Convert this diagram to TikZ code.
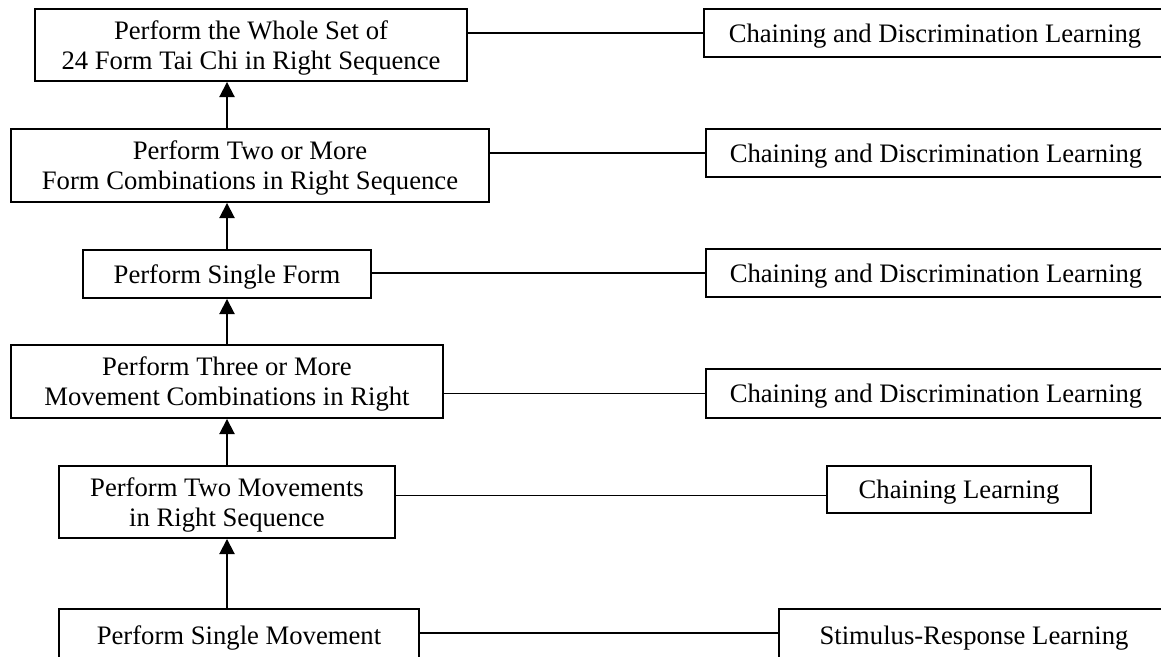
\documentclass[tikz,border=0pt]{standalone}
\usepackage{fontspec}
\setmainfont{Liberation Serif}
\usetikzlibrary{arrows.meta}
\newcommand{\pxu}{0.45pt}
\tikzset{
    stage/.style={draw, line width=0.85pt, inner sep=0pt, text depth=0pt, align=center,
        font=\fontsize{12}{13.5}\selectfont},
    link/.style={line width=0.85pt},
    up/.style={line width=0.85pt, -{Triangle[length=6.8pt,width=6.8pt]}}
}
\begin{document}
\begin{tikzpicture}[x=\pxu,y=-\pxu]
		\useasboundingbox (0,0) rectangle (1161,656);
		\clip (0,0) rectangle (1161,656);

		% skills
		\node[stage, minimum width=432*\pxu, minimum height=72*\pxu] (b1) at (251,45) {Perform the Whole Set of\\24 Form Tai Chi in Right Sequence};
		\node[stage, minimum width=478*\pxu, minimum height=73*\pxu] (b2) at (250,165.5) {Perform Two or More\\Form Combinations in Right Sequence};
		\node[stage, minimum width=288*\pxu, minimum height=48*\pxu] (b3) at (227,274) {Perform Single Form};
		\node[stage, minimum width=432*\pxu, minimum height=73*\pxu] (b4) at (227,381.5) {Perform Three or More\\Movement Combinations in Right};
		\node[stage, minimum width=336*\pxu, minimum height=72*\pxu] (b5) at (227,502) {Perform Two Movements\\in Right Sequence};
		\node[stage, minimum width=360*\pxu, minimum height=52*\pxu] (b6) at (239,635) {Perform Single Movement};
		\draw[up] (b5.south |- b6.north) -- (b5.south);
		\draw[up] (b5.north) -- (b4.south);
		\draw[up] (b4.north) -- (b3.south);
		\draw[up] (b3.north) -- (b3.north |- b2.south);
		\draw[up] (b3.north |- b2.north) -- (b3.north |- b1.south);

		% learning types
		\node[stage, minimum width=462*\pxu, minimum height=48*\pxu] (r1) at (935,33) {Chaining and Discrimination Learning};
		\node[stage, minimum width=460*\pxu, minimum height=48*\pxu] (r2) at (936,153) {Chaining and Discrimination Learning};
		\node[stage, minimum width=460*\pxu, minimum height=48*\pxu] (r3) at (936,273) {Chaining and Discrimination Learning};
		\node[stage, minimum width=460*\pxu, minimum height=49*\pxu] (r4) at (936,393.5) {Chaining and Discrimination Learning};
		\node[stage, minimum width=264*\pxu, minimum height=47*\pxu] (r5) at (959,489.5) {Chaining Learning};
		\node[stage, minimum width=390*\pxu, minimum height=52*\pxu] (r6) at (974,635) {Stimulus-Response Learning};
		\draw[link] (r1.west) -- (r1.west -| b1.east);
		\draw[link] (r2.west) -- (r2.west -| b2.east);
		\draw[link] (r3.west) -- (r3.west -| b3.east);
		\draw[link] (r4.west) -- (r4.west -| b4.east);
		\draw[link] ([yshift=-2.7pt]r5.west) -- ([yshift=-2.7pt]r5.west -| b5.east);
		\draw[link] ([yshift=0.9pt]r6.west) -- ([yshift=0.9pt]r6.west -| b6.east);
\end{tikzpicture}
\end{document}
